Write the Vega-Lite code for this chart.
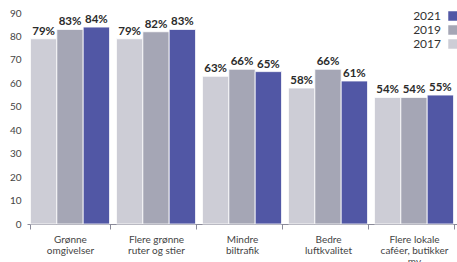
{
  "$schema": "https://vega.github.io/schema/vega-lite/v6.json",
  "width": 430,
  "height": 211,
  "autosize": {"type": "none"},
  "padding": {"left": 27, "top": 13, "right": 0, "bottom": 38},
  "background": "white",
  "config": {"view": {"stroke": null}, "font": "Lato"},
  "data": {
    "values": [
      {"cat": "Grønne|omgivelser", "year": "2017", "v": 79, "label": "79%"},
      {"cat": "Grønne|omgivelser", "year": "2019", "v": 83, "label": "83%"},
      {"cat": "Grønne|omgivelser", "year": "2021", "v": 84, "label": "84%"},
      {"cat": "Flere grønne|ruter og stier", "year": "2017", "v": 79, "label": "79%"},
      {"cat": "Flere grønne|ruter og stier", "year": "2019", "v": 82, "label": "82%"},
      {"cat": "Flere grønne|ruter og stier", "year": "2021", "v": 83, "label": "83%"},
      {"cat": "Mindre|biltrafik", "year": "2017", "v": 63, "label": "63%"},
      {"cat": "Mindre|biltrafik", "year": "2019", "v": 66, "label": "66%"},
      {"cat": "Mindre|biltrafik", "year": "2021", "v": 65, "label": "65%"},
      {"cat": "Bedre|luftkvalitet", "year": "2017", "v": 58, "label": "58%"},
      {"cat": "Bedre|luftkvalitet", "year": "2019", "v": 66, "label": "66%"},
      {"cat": "Bedre|luftkvalitet", "year": "2021", "v": 61, "label": "61%"},
      {"cat": "Flere lokale|caféer, butikker|mv", "year": "2017", "v": 54, "label": "54%"},
      {"cat": "Flere lokale|caféer, butikker|mv", "year": "2019", "v": 54, "label": "54%"},
      {"cat": "Flere lokale|caféer, butikker|mv", "year": "2021", "v": 55, "label": "55%"}
    ]
  },
  "encoding": {
    "x": {
      "field": "cat", "type": "nominal", "sort": null, "title": null,
      "scale": {"paddingInner": 0.08, "paddingOuter": 0.04},
      "axis": {
        "labelAngle": 0, "labelExpr": "split(datum.label, '|')",
        "labelFontSize": 10, "labelColor": "#444", "labelPadding": 5,
        "labelLineHeight": 11, "domainColor": "#8a8a99", "tickColor": "#8a8a99",
        "tickBand": "extent", "tickSize": 5, "labelLimit": 200
      }
    },
    "xOffset": {"field": "year", "type": "nominal", "sort": ["2017", "2019", "2021"]},
    "y": {
      "field": "v", "type": "quantitative", "title": null,
      "scale": {"domain": [0, 90], "nice": false},
      "axis": {
        "values": [0, 10, 20, 30, 40, 50, 60, 70, 80, 90],
        "domain": false, "ticks": false, "grid": false,
        "labelFontSize": 10, "labelColor": "#444", "labelPadding": 6
      }
    }
  },
  "layer": [
    {
      "mark": {"type": "bar", "stroke": "white", "strokeWidth": 0.8},
      "encoding": {
        "color": {
          "field": "year", "type": "nominal",
          "scale": {"domain": ["2021", "2019", "2017"], "range": ["#5157a5", "#a5a6b5", "#cdcdd6"]},
          "legend": {
            "title": null, "orient": "none", "legendX": 400, "legendY": -3,
            "symbolType": "square", "symbolSize": 90, "symbolStrokeWidth": 0,
            "labelAlign": "right", "labelOffset": -18, "labelFontSize": 12,
            "labelColor": "#333", "rowPadding": 2, "symbolOffset": 20
          }
        }
      }
    },
    {
      "mark": {"type": "text", "dy": -7, "fontSize": 11.5, "fontWeight": "bold", "color": "#2b2b2b"},
      "encoding": {"text": {"field": "label"}}
    }
  ]
}
